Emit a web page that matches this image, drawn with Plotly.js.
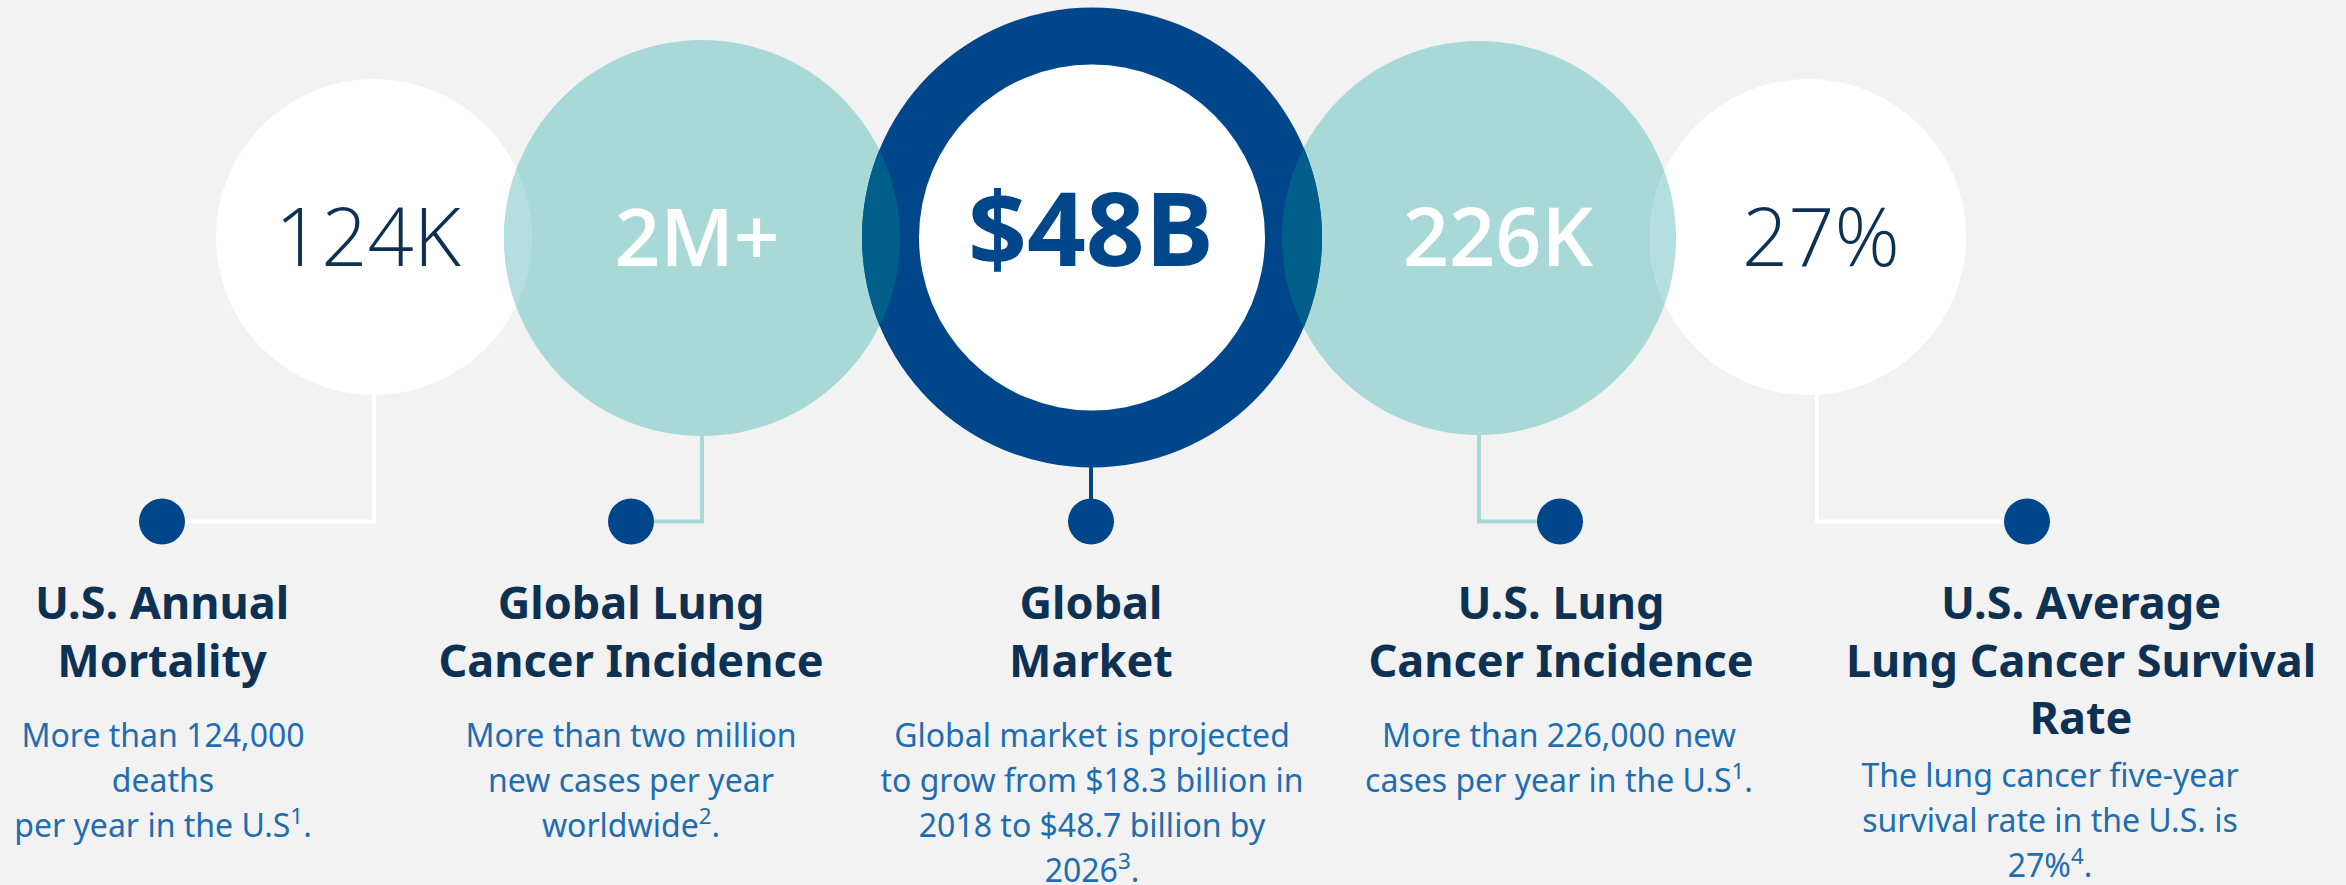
<!DOCTYPE html>
<html><head><meta charset="utf-8">
<script src="https://cdn.plot.ly/plotly-3.0.1.min.js"></script>
<style>html,body{margin:0;padding:0;background:#f2f2f2;overflow:hidden}</style>
</head><body><div id="chart" style="width:2346px;height:885px"></div>
<script>
// ---- content ----
const bigValues = ['124K', '2M+', '$48B', '226K', '27%'];
const titles = [
  ['U.S. Annual', 'Mortality'],
  ['Global Lung', 'Cancer Incidence'],
  ['Global', 'Market'],
  ['U.S. Lung', 'Cancer Incidence'],
  ['U.S. Average', 'Lung Cancer Survival', 'Rate']
];
const descriptions = [
  ['More than 124,000', 'deaths', 'per year in the U.S<sup>1</sup>.'],
  ['More than two million', 'new cases per year', 'worldwide<sup>2</sup>.'],
  ['Global market is projected', 'to grow from $18.3 billion in', '2018 to $48.7 billion by', '2026<sup>3</sup>.'],
  ['More than 226,000 new', 'cases per year in the U.S<sup>1</sup>.'],
  ['The lung cancer five-year', 'survival rate in the U.S. is', '27%<sup>4</sup>.']
];

// ---- layout geometry (pixels) ----
const W = 2346, H = 885;
const BG = '#f2f2f2', TEAL = '#a9d9d7', NAVY = '#00468a', WHITE = '#ffffff';
const LENS_LIGHT = '#b4dfde', LENS_DARK = '#005f8a';
const TITLE_C = '#0d3152', BODY_C = '#1f6db1', NUM_DARK = '#0d3152';

const circles = [
  {cx: 374, cy: 237, r: 158, fill: WHITE},
  {cx: 702, cy: 238, r: 198, fill: TEAL},
  {cx: 1092, cy: 237.5, r: 230, fill: NAVY},
  {cx: 1479, cy: 238, r: 197, fill: TEAL},
  {cx: 1808, cy: 237, r: 158, fill: WHITE}
];
const innerR = 173;
const lineX = [374, 702, 1091, 1479, 1817];
const lineColors = [WHITE, TEAL, NAVY, TEAL, WHITE];
const dotX = [162, 631, 1091, 1560, 2027], dotY = 521.5, dotR = 23;
const numX = [368, 697, 1091, 1498, 1821], numBase = 265.7;
const numSize = [81, 80, 103, 81, 81];
const numWeight = [300, 600, 700, 600, 300];
const numColor = [NUM_DARK, WHITE, NAVY, WHITE, NUM_DARK];
const titleX = [162, 631, 1091, 1561, 2081], titleBase = 619, titleStep = 57.5, titleSize = 45;
const bodyX = [163, 631, 1092, 1559, 2050], bodyBase = [747, 747, 747, 747, 787], bodyStep = 45, bodySize = 32;

function circleShape(c, fill, r) {
  r = r || c.r;
  return {type: 'circle', xref: 'x', yref: 'y', layer: 'below',
    x0: c.cx - r, x1: c.cx + r, y0: c.cy - r, y1: c.cy + r,
    fillcolor: fill, line: {width: 0}};
}
function lensShape(a, b, fill) {
  const dx = b.cx - a.cx, dy = b.cy - a.cy, d = Math.hypot(dx, dy);
  const phi = Math.atan2(dy, dx);
  const aa = (a.r * a.r - b.r * b.r + d * d) / (2 * d);
  const al1 = Math.acos(aa / a.r), al2 = Math.acos((d - aa) / b.r);
  const pts = [], n = 60;
  for (let i = 0; i <= n; i++) {
    const t = phi - al1 + 2 * al1 * i / n;
    pts.push([a.cx + a.r * Math.cos(t), a.cy + a.r * Math.sin(t)]);
  }
  for (let i = 0; i <= n; i++) {
    const t = phi + Math.PI - al2 + 2 * al2 * i / n;
    pts.push([b.cx + b.r * Math.cos(t), b.cy + b.r * Math.sin(t)]);
  }
  const path = 'M' + pts.map(p => p[0].toFixed(2) + ',' + p[1].toFixed(2)).join('L') + 'Z';
  return {type: 'path', xref: 'x', yref: 'y', layer: 'below', path: path, fillcolor: fill, line: {width: 0}};
}

const shapes = [];
circles.forEach((c, i) => {
  const bottom = c.cy + c.r;
  shapes.push({type: 'path', xref: 'x', yref: 'y', layer: 'below',
    path: `M${lineX[i]},${bottom - 2} L${lineX[i]},${dotY} L${dotX[i]},${dotY}`,
    line: {color: lineColors[i], width: 4}});
});
shapes.push(circleShape(circles[0], WHITE));
shapes.push(circleShape(circles[1], TEAL));
shapes.push(lensShape(circles[0], circles[1], LENS_LIGHT));
shapes.push(circleShape(circles[3], TEAL));
shapes.push(circleShape(circles[4], WHITE));
shapes.push(lensShape(circles[3], circles[4], LENS_LIGHT));
shapes.push(circleShape(circles[2], NAVY));
shapes.push(lensShape(circles[1], circles[2], LENS_DARK));
shapes.push(lensShape(circles[2], circles[3], LENS_DARK));
shapes.push(circleShape(circles[2], WHITE, innerR));
dotX.forEach(x => shapes.push({type: 'circle', xref: 'x', yref: 'y', layer: 'below',
  x0: x - dotR, x1: x + dotR, y0: dotY - dotR, y1: dotY + dotR, fillcolor: NAVY, line: {width: 0}}));

const traces = [];
bigValues.forEach((v, i) => {
  traces.push({type: 'scatter', mode: 'text', x: [numX[i]], y: [numBase - 0.25 * numSize[i]],
    text: [v], textposition: 'middle center', hoverinfo: 'skip', showlegend: false,
    textfont: {family: 'Open Sans, Noto Sans, sans-serif', size: numSize[i], color: numColor[i], weight: numWeight[i]}});
});
const tX = [], tY = [], tT = [];
titles.forEach((lines, i) => lines.forEach((l, j) => {
  tX.push(titleX[i]); tY.push(titleBase + j * titleStep - 0.25 * titleSize); tT.push(l);
}));
traces.push({type: 'scatter', mode: 'text', x: tX, y: tY, text: tT, textposition: 'middle center',
  hoverinfo: 'skip', showlegend: false,
  textfont: {family: 'Noto Sans, Open Sans, sans-serif', size: titleSize, color: TITLE_C, weight: 700}});
const bX = [], bY = [], bT = [];
descriptions.forEach((lines, i) => lines.forEach((l, j) => {
  bX.push(bodyX[i]); bY.push(bodyBase[i] + j * bodyStep - 0.25 * bodySize); bT.push(l);
}));
traces.push({type: 'scatter', mode: 'text', x: bX, y: bY, text: bT, textposition: 'middle center',
  hoverinfo: 'skip', showlegend: false,
  textfont: {family: 'Noto Sans, Open Sans, sans-serif', size: bodySize, color: BODY_C}});

const layout = {
  width: W, height: H, margin: {l: 0, r: 0, t: 0, b: 0},
  paper_bgcolor: BG, plot_bgcolor: BG, showlegend: false,
  xaxis: {range: [0, W], visible: false, fixedrange: true},
  yaxis: {range: [H, 0], visible: false, fixedrange: true},
  shapes: shapes
};
Plotly.newPlot('chart', traces, layout, {staticPlot: true, displayModeBar: false});
</script></body></html>
